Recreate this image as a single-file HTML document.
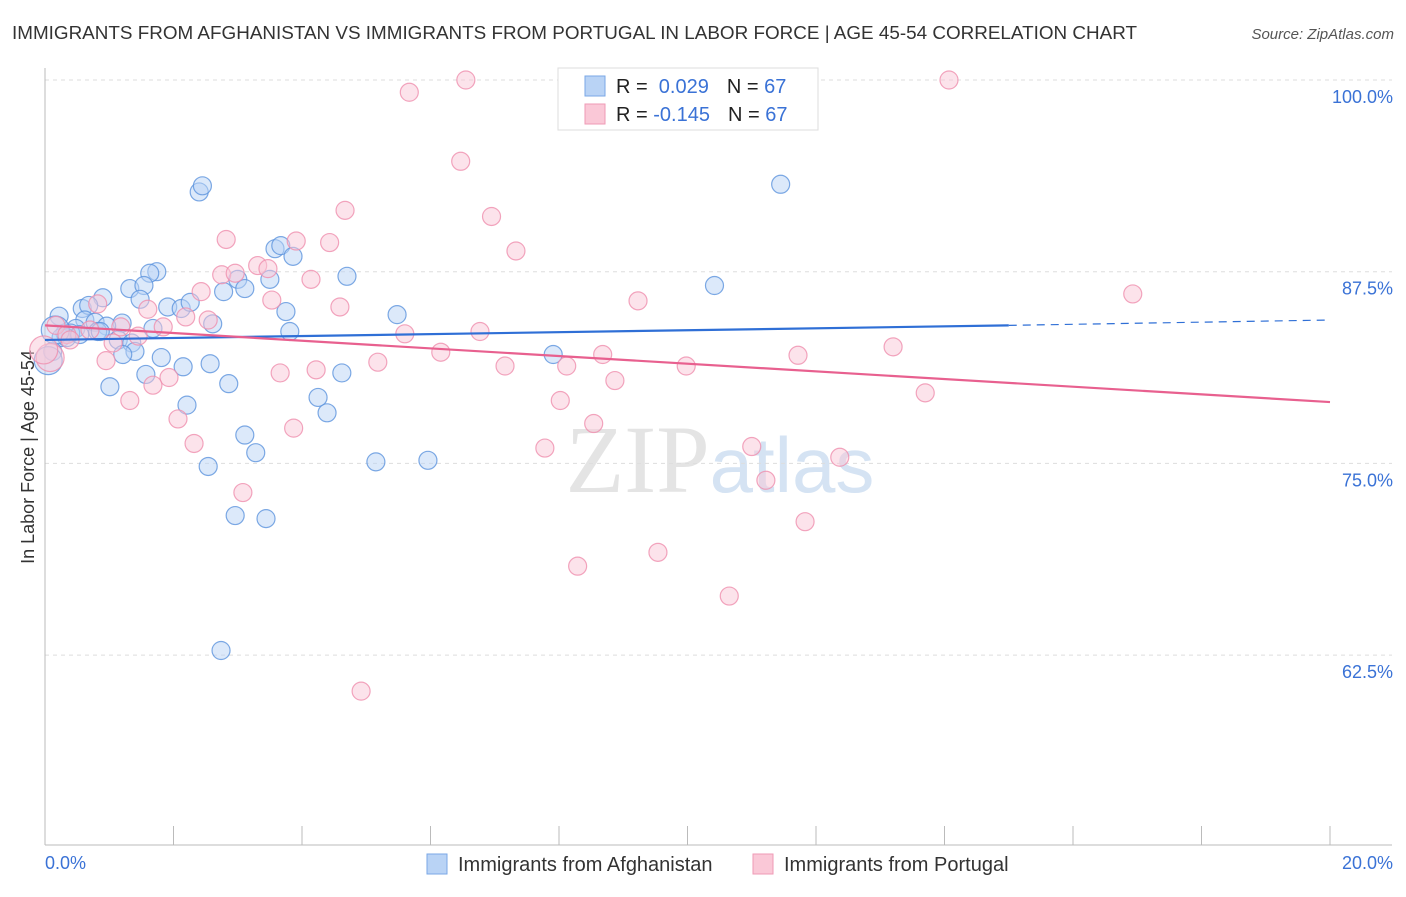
<!DOCTYPE html>
<html><head><meta charset="utf-8"><style>
body{margin:0;background:#fff;font-family:"Liberation Sans",sans-serif}
</style></head><body>
<svg id="chart" width="1406" height="892" xmlns="http://www.w3.org/2000/svg" font-family="Liberation Sans, sans-serif">
<text x="12" y="39" font-size="18.5" fill="#333" textLength="1125" lengthAdjust="spacingAndGlyphs">IMMIGRANTS FROM AFGHANISTAN VS IMMIGRANTS FROM PORTUGAL IN LABOR FORCE | AGE 45-54 CORRELATION CHART</text>
<text x="1394" y="39" font-size="15" fill="#555" text-anchor="end" font-style="italic">Source: ZipAtlas.com</text>
<text x="720" y="492" font-size="96" text-anchor="middle" fill="#e4e4e4" font-family="Liberation Serif, serif">ZIP<tspan fill="#d5e3f3" font-family="Liberation Sans, sans-serif" font-size="78">atlas</tspan></text>
<text transform="translate(34,457) rotate(-90)" font-size="18" fill="#333" text-anchor="middle">In Labor Force | Age 45-54</text>
<g id="grid"></g><g id="pts"></g><g id="lines"></g>
<g>
<rect x="558" y="68" width="260" height="62" fill="#fff" stroke="#ddd"/>
<rect x="585" y="76" width="20" height="20" fill="#b9d3f5" stroke="#7aa7e6"/>
<rect x="585" y="104" width="20" height="20" fill="#fac8d7" stroke="#ef9ab5"/>
<text x="616" y="93" font-size="20" fill="#222">R = <tspan fill="#3a72d6">&#160;0.029</tspan><tspan dx="18">N = </tspan><tspan fill="#3a72d6">67</tspan></text>
<text x="616" y="121" font-size="20" fill="#222">R = <tspan fill="#3a72d6">-0.145</tspan><tspan dx="18">N = </tspan><tspan fill="#3a72d6">67</tspan></text>
</g>
<g>
<rect x="427" y="854" width="20" height="20" fill="#b9d3f5" stroke="#7aa7e6"/>
<text x="458" y="871" font-size="20" fill="#333">Immigrants from Afghanistan</text>
<rect x="753" y="854" width="20" height="20" fill="#fac8d7" stroke="#ef9ab5"/>
<text x="784" y="871" font-size="20" fill="#333">Immigrants from Portugal</text>
</g>
<text x="45" y="869" font-size="18" fill="#3a72d6">0.0%</text>
<text x="1393" y="869" font-size="18" fill="#3a72d6" text-anchor="end">20.0%</text>
</svg>
<script>
const yTicks=[100,87.5,75,62.5];
const yTickLabels=["100.0%","87.5%","75.0%","62.5%"];
const xTicks=[0,2,4,6,8,10,12,14,16,18,20];
const afgX=[2.4,2.45,11.45,3.58,3.67,3.86,1.74,1.63,4.7,3.0,3.5,10.42,1.32,1.54,2.78,3.11,0.9,1.48,0.58,0.68,1.91,2.12,2.26,3.75,5.48,0.22,0.62,0.78,1.2,0.96,2.61,1.68,0.48,3.81,0.82,0.31,0.4,0.25,0.34,1.14,1.35,0.12,1.4,1.21,1.81,7.91,2.57,2.15,1.01,1.57,4.62,2.86,4.25,2.21,4.39,3.11,3.28,2.54,5.15,5.96,2.96,3.44,2.74,0.05,0.16,0.86,0.54];
const afgY=[92.7,93.1,93.2,89.0,89.2,88.5,87.5,87.4,87.2,87.0,87.0,86.6,86.4,86.6,86.2,86.4,85.8,85.7,85.1,85.3,85.2,85.1,85.5,84.9,84.7,84.6,84.35,84.2,84.15,83.95,84.1,83.8,83.8,83.6,83.6,83.5,83.5,83.2,83.2,83.05,82.85,82.3,82.3,82.1,81.9,82.1,81.5,81.3,80.0,80.8,80.9,80.2,79.3,78.8,78.3,76.85,75.7,74.8,75.1,75.2,71.6,71.4,62.8,81.7,83.7,83.6,83.4];
const porX=[6.55,14.07,5.67,6.47,4.67,6.95,2.82,3.91,4.43,7.33,3.31,2.75,2.96,3.47,4.14,2.43,16.93,9.23,3.53,0.82,4.59,1.6,2.19,2.54,0.17,1.84,1.18,6.77,5.6,1.45,0.34,1.06,13.2,6.16,8.68,11.72,0.95,5.18,7.16,8.12,9.98,3.66,4.22,1.93,1.68,8.87,13.7,1.32,8.02,2.07,8.54,3.87,2.32,7.78,11.0,12.37,11.22,3.08,11.83,9.54,8.29,10.65,4.92,0.08,-0.02,0.7,0.39];
const porY=[100.0,100.0,99.2,94.7,91.5,91.1,89.6,89.5,89.4,88.85,87.9,87.3,87.4,87.7,87.0,86.2,86.05,85.6,85.65,85.4,85.2,85.05,84.55,84.35,84.0,83.9,83.9,83.6,83.45,83.3,83.4,82.85,82.6,82.25,82.1,82.05,81.7,81.6,81.35,81.35,81.35,80.9,81.1,80.6,80.1,80.4,79.6,79.1,79.1,77.9,77.6,77.3,76.3,76.0,76.1,75.4,73.9,73.1,71.2,69.2,68.3,66.35,60.15,81.9,82.4,83.7,83.05];
const afgTrend=[[0,83.05],[15,84.0],[20,84.35]];
const porTrend=[[0,84.0],[20,79.0]];
const NS="http://www.w3.org/2000/svg";
const X=v=>45+v/20*1285, Y=v=>80+(100-v)*15.336;
function mk(t,a,p){const e=document.createElementNS(NS,t);for(const k in a)e.setAttribute(k,a[k]);p.appendChild(e);return e;}
const grid=document.getElementById('grid');
yTicks.forEach((t,i)=>{
 const l=mk('line',{x1:45,x2:1392,y1:Y(t),y2:Y(t),stroke:'#ddd','stroke-dasharray':'4,4'},grid);
 
 
 const tx=mk('text',{x:1393,y:Y(t)+23,'font-size':18,fill:'#3a72d6','text-anchor':'end'},grid);
 tx.textContent=yTickLabels[i];
 
 
});
const ax=mk('line',{x1:45,x2:1392,y1:845,y2:845,stroke:'#bbb'},grid);


const ay=mk('line',{x1:45,x2:45,y1:68,y2:845,stroke:'#bbb'},grid);


xTicks.forEach(t=>{const l=mk('line',{x1:X(t),x2:X(t),y1:826,y2:845,stroke:'#bbb'},grid);
 
 });
const pts=document.getElementById('pts');
function draw(xs,ys,fill,stroke,name){xs.forEach((x,i)=>{
 const r=(i>=xs.length-4 && x<0.2)?14:9;
 const c=mk('circle',{cx:X(x),cy:Y(ys[i]),r:r,fill:fill,'fill-opacity':0.5,stroke:stroke,'stroke-opacity':0.8,'stroke-width':1.2},pts);
 
 });}
draw(afgX,afgY,'#b9d3f5','#5d93dd','afghanistan-point');
draw(porX,porY,'#fac8d7','#ef8fae','portugal-point');
const lines=document.getElementById('lines');
const b1=mk('line',{x1:X(afgTrend[0][0]),y1:Y(afgTrend[0][1]),x2:X(afgTrend[1][0]),y2:Y(afgTrend[1][1]),stroke:'#2f6fd6','stroke-width':2.2},lines);


const b2=mk('line',{x1:X(afgTrend[1][0]),y1:Y(afgTrend[1][1]),x2:X(afgTrend[2][0]),y2:Y(afgTrend[2][1]),stroke:'#2f6fd6','stroke-width':1.2,'stroke-dasharray':'8,6'},lines);


const p1=mk('line',{x1:X(porTrend[0][0]),y1:Y(porTrend[0][1]),x2:X(porTrend[1][0]),y2:Y(porTrend[1][1]),stroke:'#e8608f','stroke-width':2.2},lines);


</script>
</body></html>
